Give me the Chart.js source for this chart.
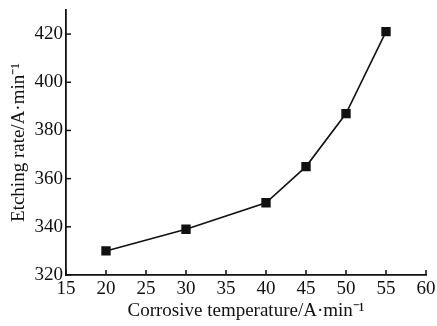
<!DOCTYPE html>
<html><head><meta charset="utf-8">
<script src="https://cdn.jsdelivr.net/npm/chart.js@4"></script>
<style>html,body{margin:0;padding:0;background:#fff}#wrap{width:437px;height:326px}</style>
</head><body><div id="wrap"><canvas id="c" width="437" height="326"></canvas></div>
<script>
const temperatures = [20, 30, 40, 45, 50, 55];
const etchingRates = [330, 339, 350, 365, 387, 421];
const xTickValues = [15, 20, 25, 30, 35, 40, 45, 50, 55, 60];
const yTickValues = [320, 340, 360, 380, 400, 420];
const xTitle = 'Corrosive temperature/A\u00b7min\u207b\u00b9';
const yTitle = 'Etching rate/A\u00b7min\u207b\u00b9';

const FONT = '"Liberation Serif", "Times New Roman", serif';
const inwardTicks = {
  id: 'inwardTicks',
  afterDraw(chart) {
    const ctx = chart.ctx, a = chart.chartArea;
    ctx.save();
    ctx.strokeStyle = '#111'; ctx.lineWidth = 1.5;
    const xs = chart.scales.x, ys = chart.scales.y;
    xs.ticks.forEach(t => { const p = xs.getPixelForValue(t.value); ctx.beginPath(); ctx.moveTo(p, a.bottom); ctx.lineTo(p, a.bottom - 5); ctx.stroke(); });
    ys.ticks.forEach(t => { const p = ys.getPixelForValue(t.value); ctx.beginPath(); ctx.moveTo(a.left, p); ctx.lineTo(a.left + 5, p); ctx.stroke(); });
    ctx.restore();
  }
};
new Chart(document.getElementById('c'), {
  type: 'line',
  data: { datasets: [{
    data: temperatures.map((t, i) => ({x: t, y: etchingRates[i]})),
    borderColor: '#111', backgroundColor: '#111', borderWidth: 1.6,
    pointStyle: 'rect', pointRadius: 5.5, pointHoverRadius: 5.5, tension: 0
  }]},
  options: {
    responsive: false, animation: false, devicePixelRatio: 1,
    layout: { padding: { top: 10, right: 11, left: 0, bottom: 0 } },
    plugins: { legend: { display: false }, tooltip: { enabled: false } },
    scales: {
      x: {
        type: 'linear', min: 15, max: 60,
        afterBuildTicks: s => { s.ticks = xTickValues.map(v => ({value: v})); },
        afterFit: s => { s.height = 51; s.paddingLeft = 0; s.paddingRight = 0; },
        grid: { display: true, drawOnChartArea: false, drawTicks: false },
        border: { display: true, color: '#111', width: 1.8 },
        ticks: { color: '#111', font: { family: FONT, size: 19 }, padding: 3, maxRotation: 0, autoSkip: false },
        title: { display: true, text: xTitle, color: '#111', font: { family: FONT, size: 19 }, padding: { top: 0, bottom: 4 } }
      },
      y: {
        type: 'linear', min: 320, max: 430,
        afterBuildTicks: s => { s.ticks = yTickValues.map(v => ({value: v})); },
        afterFit: s => { s.width = 66; s.paddingTop = 0; s.paddingBottom = 0; },
        grid: { display: true, drawOnChartArea: false, drawTicks: false },
        border: { display: true, color: '#111', width: 1.8 },
        ticks: { color: '#111', font: { family: FONT, size: 19 }, padding: 3, autoSkip: false },
        title: { display: true, text: yTitle, color: '#111', font: { family: FONT, size: 19 }, padding: { top: 8, bottom: 0 } }
      }
    }
  },
  plugins: [inwardTicks]
});
</script></body></html>
